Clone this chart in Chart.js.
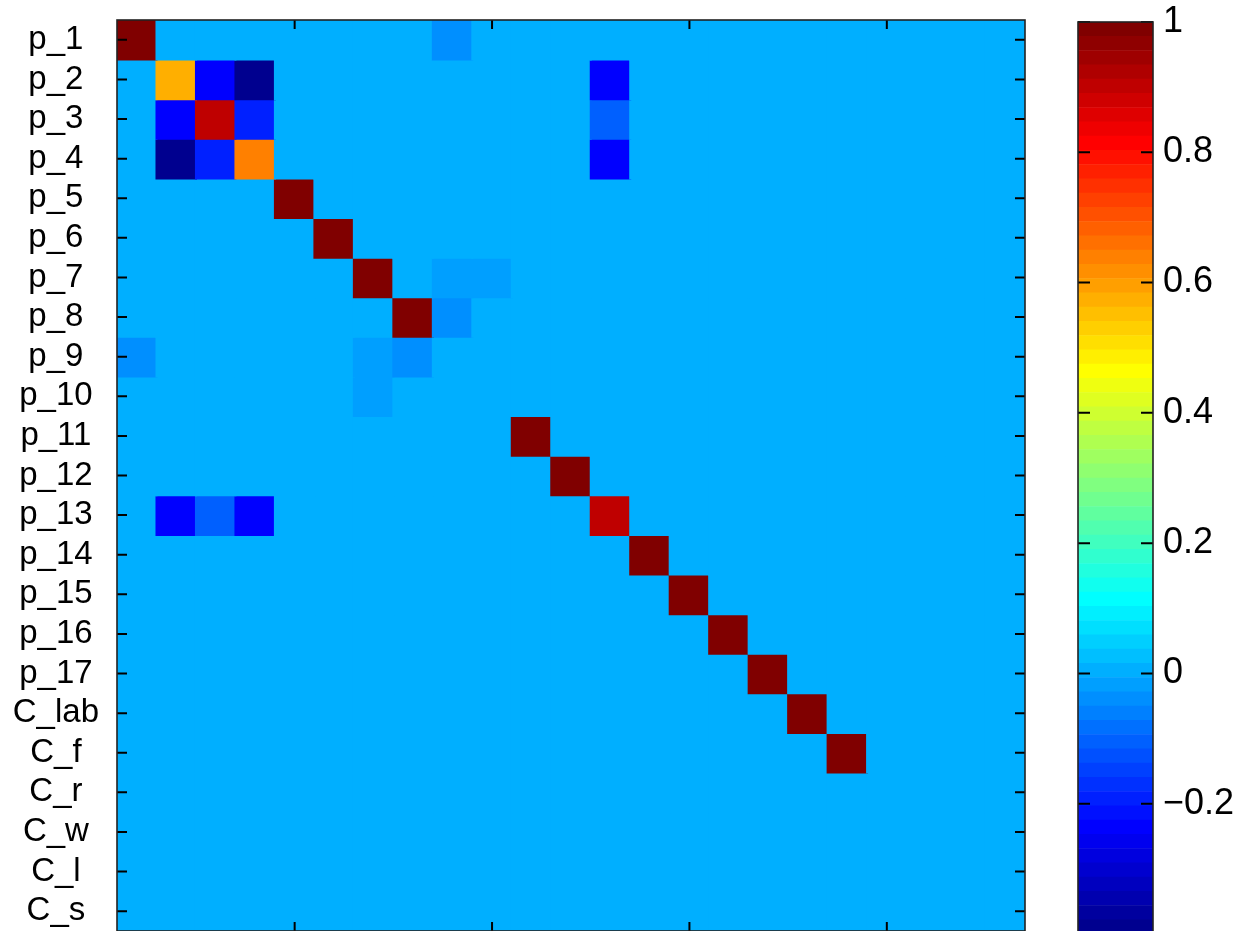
<!DOCTYPE html>
<html>
<head>
<meta charset="utf-8">
<title>Correlation matrix</title>
<script src="https://cdn.jsdelivr.net/npm/chart.js@4.4.1/dist/chart.umd.min.js"></script>
<style>
  html, body { margin: 0; padding: 0; background: #fff; }
  #wrap { position: relative; width: 1241px; height: 931px; overflow: hidden; }
  #matrix { position: absolute; left: 0; top: 0; }
  #cbar { position: absolute; left: 1040px; top: 0; }
</style>
</head>
<body>
<div id="wrap">
  <canvas id="matrix" width="1040" height="932"></canvas>
  <canvas id="cbar" width="201" height="934"></canvas>
</div>
<script>
// Parameter names, one per row and column of the matrix
const rowLabels = ['p_1', 'p_2', 'p_3', 'p_4', 'p_5', 'p_6', 'p_7', 'p_8', 'p_9', 'p_10',
  'p_11', 'p_12', 'p_13', 'p_14', 'p_15', 'p_16', 'p_17',
  'C_lab', 'C_f', 'C_r', 'C_w', 'C_l', 'C_s'];
const colLabels = ['1', '2', '3', '4', '5', '6', '7', '8', '9', '10', '11', '12', '13',
  '14', '15', '16', '17', '18', '19', '20', '21', '22', '23'];

// Correlation values, one array per row
const corr = [
  [1, 0, 0, 0, 0, 0, 0, 0, -0.04, 0, 0, 0, 0, 0, 0, 0, 0, 0, 0, 0, 0, 0, 0],
  [0, 0.57, -0.235, -0.39, 0, 0, 0, 0, 0, 0, 0, 0, -0.235, 0, 0, 0, 0, 0, 0, 0, 0, 0, 0],
  [0, -0.235, 0.9, -0.19, 0, 0, 0, 0, 0, 0, 0, 0, -0.1, 0, 0, 0, 0, 0, 0, 0, 0, 0, 0],
  [0, -0.39, -0.19, 0.64, 0, 0, 0, 0, 0, 0, 0, 0, -0.235, 0, 0, 0, 0, 0, 0, 0, 0, 0, 0],
  [0, 0, 0, 0, 1, 0, 0, 0, 0, 0, 0, 0, 0, 0, 0, 0, 0, 0, 0, 0, 0, 0, 0],
  [0, 0, 0, 0, 0, 1, 0, 0, 0, 0, 0, 0, 0, 0, 0, 0, 0, 0, 0, 0, 0, 0, 0],
  [0, 0, 0, 0, 0, 0, 1, 0, -0.02, -0.02, 0, 0, 0, 0, 0, 0, 0, 0, 0, 0, 0, 0, 0],
  [0, 0, 0, 0, 0, 0, 0, 1, -0.04, 0, 0, 0, 0, 0, 0, 0, 0, 0, 0, 0, 0, 0, 0],
  [-0.04, 0, 0, 0, 0, 0, -0.02, -0.04, 0, 0, 0, 0, 0, 0, 0, 0, 0, 0, 0, 0, 0, 0, 0],
  [0, 0, 0, 0, 0, 0, -0.02, 0, 0, 0, 0, 0, 0, 0, 0, 0, 0, 0, 0, 0, 0, 0, 0],
  [0, 0, 0, 0, 0, 0, 0, 0, 0, 0, 1, 0, 0, 0, 0, 0, 0, 0, 0, 0, 0, 0, 0],
  [0, 0, 0, 0, 0, 0, 0, 0, 0, 0, 0, 1, 0, 0, 0, 0, 0, 0, 0, 0, 0, 0, 0],
  [0, -0.235, -0.1, -0.235, 0, 0, 0, 0, 0, 0, 0, 0, 0.9, 0, 0, 0, 0, 0, 0, 0, 0, 0, 0],
  [0, 0, 0, 0, 0, 0, 0, 0, 0, 0, 0, 0, 0, 1, 0, 0, 0, 0, 0, 0, 0, 0, 0],
  [0, 0, 0, 0, 0, 0, 0, 0, 0, 0, 0, 0, 0, 0, 1, 0, 0, 0, 0, 0, 0, 0, 0],
  [0, 0, 0, 0, 0, 0, 0, 0, 0, 0, 0, 0, 0, 0, 0, 1, 0, 0, 0, 0, 0, 0, 0],
  [0, 0, 0, 0, 0, 0, 0, 0, 0, 0, 0, 0, 0, 0, 0, 0, 1, 0, 0, 0, 0, 0, 0],
  [0, 0, 0, 0, 0, 0, 0, 0, 0, 0, 0, 0, 0, 0, 0, 0, 0, 1, 0, 0, 0, 0, 0],
  [0, 0, 0, 0, 0, 0, 0, 0, 0, 0, 0, 0, 0, 0, 0, 0, 0, 0, 1, 0, 0, 0, 0],
  [0, 0, 0, 0, 0, 0, 0, 0, 0, 0, 0, 0, 0, 0, 0, 0, 0, 0, 0, 0, 0, 0, 0],
  [0, 0, 0, 0, 0, 0, 0, 0, 0, 0, 0, 0, 0, 0, 0, 0, 0, 0, 0, 0, 0, 0, 0],
  [0, 0, 0, 0, 0, 0, 0, 0, 0, 0, 0, 0, 0, 0, 0, 0, 0, 0, 0, 0, 0, 0, 0],
  [0, 0, 0, 0, 0, 0, 0, 0, 0, 0, 0, 0, 0, 0, 0, 0, 0, 0, 0, 0, 0, 0, 0]
];

// Column positions that carry tick marks on the top/bottom edges
const colTicks = [5, 10, 15, 20];

// Colour scale limits and colour bar ticks
const cMin = -0.4;
const cMax = 1;
const colorTicks = [-0.2, 0, 0.2, 0.4, 0.6, 0.8, 1];
const colorTickLabels = ['\u22120.2', '0', '0.2', '0.4', '0.6', '0.8', '1'];

// 64-entry jet colormap
function jetMap(m) {
  const n = Math.ceil(m / 4);
  const u = [];
  for (let i = 1; i <= n; i++) u.push(i / n);
  for (let i = 1; i < n; i++) u.push(1);
  for (let i = n; i >= 1; i--) u.push(i / n);
  const g0 = Math.ceil(n / 2) - (m % 4 === 1 ? 1 : 0);
  const rgb = Array.from({ length: m }, () => [0, 0, 0]);
  u.forEach((val, k) => {
    const g = g0 + k + 1, r = g + n, b = g - n;
    if (r >= 1 && r <= m) rgb[r - 1][0] = val;
    if (g >= 1 && g <= m) rgb[g - 1][1] = val;
    if (b >= 1 && b <= m) rgb[b - 1][2] = val;
  });
  return rgb.map(c => `rgb(${Math.round(c[0] * 255)},${Math.round(c[1] * 255)},${Math.round(c[2] * 255)})`);
}
const JET = jetMap(64);
function colorFor(v) {
  let i = Math.floor((v - cMin) / (cMax - cMin) * JET.length);
  i = Math.max(0, Math.min(JET.length - 1, i));
  return JET[i];
}

const FONT = "'Liberation Sans', Arial, Helvetica, sans-serif";

// Keep the plot area at a fixed size: no extra room for the end labels
function fixAxis(width) {
  return s => {
    s.width = width;
    s.paddingTop = 0;
    s.paddingBottom = 0;
  };
}

// Frame and inward tick marks for the matrix axes
const matrixFrame = {
  id: 'matrixFrame',
  afterDraw(chart) {
    const { ctx, chartArea: a, scales } = chart;
    ctx.save();
    ctx.strokeStyle = '#000';
    ctx.lineWidth = 2;
    ctx.beginPath();
    for (let i = 1; i <= rowLabels.length; i++) {
      const py = scales.y.getPixelForValue(i);
      ctx.moveTo(a.left, py); ctx.lineTo(a.left + 10, py);
      ctx.moveTo(a.right, py); ctx.lineTo(a.right - 10, py);
    }
    colTicks.forEach(c => {
      const px = scales.x.getPixelForValue(c - 1);
      ctx.moveTo(px, a.top); ctx.lineTo(px, a.top + 9);
      ctx.moveTo(px, a.bottom); ctx.lineTo(px, a.bottom - 9);
    });
    ctx.stroke();
    ctx.strokeStyle = '#222';
    ctx.lineWidth = 1.6;
    ctx.strokeRect(a.left, a.top, a.right - a.left, a.bottom - a.top);
    ctx.restore();
  }
};

new Chart(document.getElementById('matrix'), {
  type: 'bar',
  data: {
    labels: colLabels,
    datasets: corr.map((row, r) => ({
      label: rowLabels[r],
      data: row.map(() => [r + 0.5, r + 1.5]),
      backgroundColor: row.map(colorFor),
      borderWidth: 0,
      inflateAmount: 1,
      grouped: false,
      barPercentage: 1,
      categoryPercentage: 1
    }))
  },
  options: {
    responsive: false,
    animation: false,
    devicePixelRatio: 1,
    layout: { padding: { left: 0, top: 20, right: 15, bottom: 1 } },
    plugins: { legend: { display: false }, tooltip: { enabled: false } },
    scales: {
      x: { type: 'category', display: false, offset: true },
      y: {
        type: 'linear',
        reverse: true,
        min: 0.5,
        max: rowLabels.length + 0.5,
        afterBuildTicks: s => { s.ticks = rowLabels.map((_, i) => ({ value: i + 1 })); },
        afterFit: fixAxis(117),
        grid: { display: false, drawTicks: false },
        border: { display: false },
        ticks: {
          autoSkip: false,
          crossAlign: 'center',
          padding: 18,
          color: '#000',
          font: { family: FONT, size: 33 },
          callback: v => rowLabels[v - 1]
        }
      }
    }
  },
  plugins: [matrixFrame]
});

// Frame and inward tick marks for the colour bar
const barFrame = {
  id: 'barFrame',
  afterDraw(chart) {
    const { ctx, chartArea: a, scales } = chart;
    ctx.save();
    ctx.strokeStyle = '#000';
    ctx.lineWidth = 2;
    ctx.beginPath();
    colorTicks.forEach(v => {
      const py = scales.y.getPixelForValue(v);
      ctx.moveTo(a.left, py); ctx.lineTo(a.left + 12, py);
      ctx.moveTo(a.right, py); ctx.lineTo(a.right - 12, py);
    });
    ctx.stroke();
    ctx.strokeStyle = '#222';
    ctx.lineWidth = 1.6;
    ctx.strokeRect(a.left, a.top, a.right - a.left, a.bottom - a.top + 4);
    ctx.restore();
  }
};

const step = (cMax - cMin) / JET.length;
new Chart(document.getElementById('cbar'), {
  type: 'bar',
  data: {
    labels: [''],
    datasets: JET.map((col, i) => ({
      data: [[cMin + i * step, cMin + (i + 1) * step]],
      backgroundColor: col,
      borderWidth: 0,
      grouped: false,
      barPercentage: 1,
      categoryPercentage: 1
    }))
  },
  options: {
    responsive: false,
    animation: false,
    devicePixelRatio: 1,
    layout: { padding: { left: 38, top: 22, right: 0, bottom: 0 } },
    plugins: { legend: { display: false }, tooltip: { enabled: false } },
    scales: {
      x: { type: 'category', display: false, offset: true },
      y: {
        type: 'linear',
        position: 'right',
        min: cMin,
        max: cMax,
        afterBuildTicks: s => { s.ticks = colorTicks.map(v => ({ value: v })); },
        afterFit: fixAxis(88),
        grid: { display: false, drawTicks: false },
        border: { display: false },
        ticks: {
          padding: 10,
          color: '#000',
          font: { family: FONT, size: 36 },
          callback: v => colorTickLabels[colorTicks.findIndex(t => Math.abs(t - v) < 1e-9)]
        }
      }
    }
  },
  plugins: [barFrame]
});
</script>
</body>
</html>
